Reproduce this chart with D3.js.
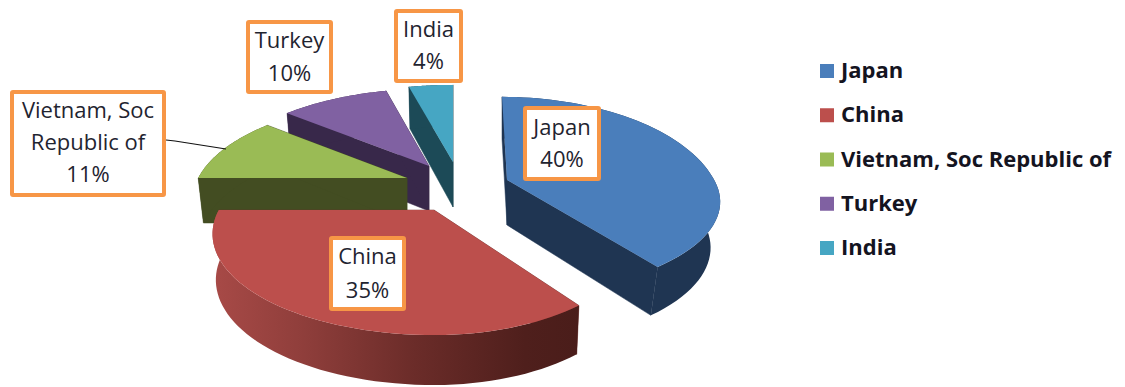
<!DOCTYPE html>
<html>
<head>
<meta charset="utf-8">
<script src="https://cdnjs.cloudflare.com/ajax/libs/d3/7.8.5/d3.min.js"></script>
<style>
html,body{margin:0;padding:0;background:#fff;}
svg{display:block;}
</style>
</head>
<body>
<svg id="chart" width="1125" height="387"></svg>
<script>
// ---- data ----
const categories = ["Japan", "China", "Vietnam, Soc Republic of", "Turkey", "India"];
const values = [40, 35, 11, 10, 4];
const labelNames = [["Japan"], ["China"], ["Vietnam, Soc", "Republic of"], ["Turkey"], ["India"]];
const topColors = ["#4a7ebb", "#bc4f4c", "#9abb55", "#8061a2", "#46a6c3"];
const wallColors = ["#1f3552", "url(#chinaWall)", "#434d22", "#38284a", "#1c4a57"];

// ---- layout ----
const W = 1125, H = 387;
const FONT = "'Open Sans', Lato, sans-serif";
const apexes = [[507, 180], [434, 210], [407, 178], [429, 166], [453, 162]];
const boxes = [[525, 108, 74, 71], [331, 238, 73, 71], [12, 92, 152, 103], [248, 22, 83, 70], [396, 11, 65, 70]];
const baselines = [[135, 167], [264, 298], [118, 150, 182], [48, 81], [37, 69]];
const paintOrder = [4, 3, 2, 0, 1];
// per-slice shape tweaks: x scale left/right, y scale back/front, lean of the back edge, bottom x scale
const xLeft  = [1, 1.015, 0.985, 1, 1.03];
const xRight = [0.977, 0.94, 1, 1, 1];
const yBack  = [1.078, 1, 1, 1, 1];
const yFront = [0.91, 1, 1, 1, 1];
const lean   = [5, 0, 0, 0, 0];
const botX   = [0.955, 0.985, 0.975, 0.975, 0.975];

const RX = 212, RY = 95.4, PERSP = 0.237, DEPTH = 45, BOT_Y = 1.04;

const svg = d3.select("#chart");
const defs = svg.append("defs");
const grad = defs.append("linearGradient").attr("id", "chinaWall")
  .attr("gradientUnits", "userSpaceOnUse").attr("x1", 212).attr("x2", 580).attr("y1", 0).attr("y2", 0);
[[0, "#a84a47"], [0.25, "#8f3e3b"], [0.55, "#6b2c29"], [0.85, "#4f1f1c"], [1, "#4a1d1a"]]
  .forEach(([o, c]) => grad.append("stop").attr("offset", o).attr("stop-color", c));

// pie layout, clockwise from the top
const pie = d3.pie().sort(null).value(d => d)(values);

// perspective projection of a unit-circle point
function project(i, a, bottom) {
  const apex = apexes[i];
  const wx = Math.sin(a), wz = Math.cos(a), w = 1 + PERSP * wz;
  const kx = (wx < 0 ? xLeft[i] : xRight[i]) * (bottom ? botX[i] : 1);
  const ky = (wz > 0 ? yBack[i] : yFront[i]) * (bottom ? BOT_Y : 1);
  const dy = bottom ? DEPTH : 0;
  return [apex[0] + RX * kx * wx / w - lean[i] * Math.max(0, wz),
          apex[1] + dy - RY * ky * wz / w];
}
const arcPoints = (i, a0, a1, bottom) =>
  d3.range(0, 61).map(k => project(i, a0 + (a1 - a0) * k / 60, bottom));
const line = d3.line();

paintOrder.forEach(i => {
  const s = pie[i], apex = apexes[i];
  const a0 = s.startAngle, a1 = s.endAngle;
  const g = svg.append("g").attr("class", "slice").attr("data-name", categories[i]);
  const apexB = [apex[0], apex[1] + DEPTH];
  const wall = wallColors[i];
  const flat = wall.startsWith("url") ? "#6b2c29" : wall;
  // radial side walls
  [a0, a1].forEach(a => {
    g.append("path")
      .attr("d", line([apex, project(i, a, false), project(i, a, true), apexB]) + "Z")
      .attr("fill", flat).attr("stroke", flat).attr("stroke-width", 0.5);
  });
  // curved outer wall
  const top = arcPoints(i, a0, a1, false);
  const bot = arcPoints(i, a0, a1, true).reverse();
  g.append("path").attr("d", line(top.concat(bot)) + "Z").attr("fill", wall);
  // top face
  g.append("path").attr("d", line([apex].concat(top)) + "Z").attr("fill", topColors[i]);
});

// leader line for the Vietnam label
svg.append("path")
  .attr("d", d3.line()([[166, 140], [175, 141], [226, 149]]))
  .attr("fill", "none").attr("stroke", "#111").attr("stroke-width", 1.2);

// data labels
categories.forEach((c, i) => {
  const b = boxes[i];
  const g = svg.append("g").attr("class", "label");
  g.append("rect").attr("x", b[0]).attr("y", b[1]).attr("width", b[2]).attr("height", b[3])
    .attr("fill", "#fff").attr("stroke", "#f79646").attr("stroke-width", 4).attr("rx", 1);
  const lines = labelNames[i].concat([values[i] + "%"]);
  g.selectAll("text").data(lines).join("text")
    .attr("x", b[0] + b[2] / 2).attr("y", (d, j) => baselines[i][j])
    .attr("text-anchor", "middle")
    .attr("font-family", FONT).attr("font-size", 22).attr("fill", "#1f2430")
    .text(d => d);
});

// legend
const legendY = d3.scalePoint().domain(categories).range([71, 248]);
const lg = svg.append("g").attr("class", "legend");
categories.forEach((c, i) => {
  const y = legendY(c);
  lg.append("rect").attr("x", 820).attr("y", y - 7).attr("width", 14).attr("height", 14).attr("fill", topColors[i]);
  lg.append("text").attr("x", 841).attr("y", y + 7)
    .attr("font-family", FONT).attr("font-size", 22).attr("font-weight", 700)
    .attr("fill", "#14141f").text(c);
});
</script>
</body>
</html>
